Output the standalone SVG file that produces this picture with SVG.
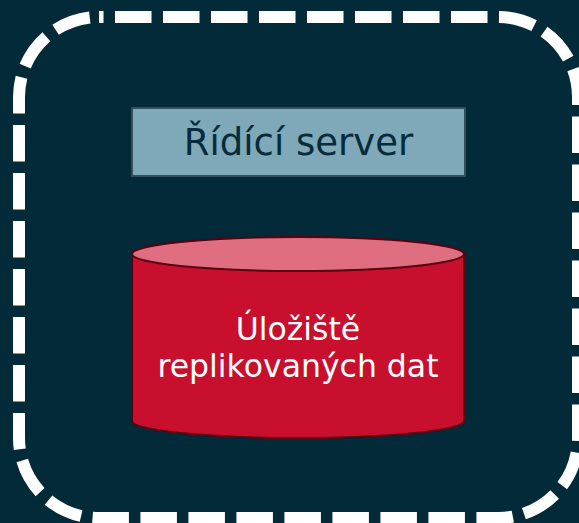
<svg xmlns="http://www.w3.org/2000/svg" width="579" height="523" viewBox="0 0 579 523">
<style>
.frame{fill:none;stroke:#ffffff;stroke-width:12;stroke-dasharray:36.5 11.5;stroke-dashoffset:32}
.box{fill:#7fa8b9;stroke:#34505c;stroke-width:2}
.t{font-family:"DejaVu Sans",Verdana,sans-serif;text-anchor:middle}
.cyl{fill:#c8102e;stroke:#5a0010;stroke-width:2}
.cyltop{fill:#df6f80;stroke:#5a0010;stroke-width:2}
</style>
<rect x="0" y="0" width="579" height="523" fill="#022a39"/>
<g id="frame">
<rect class="frame" x="19" y="17" width="559" height="501" rx="80" ry="80"/>
</g>
<g id="server">
<rect class="box" x="132" y="108" width="333" height="68"/>
<text class="t" x="298.5" y="155" font-size="37" fill="#062b3b">Řídící server</text>
</g>
<g id="storage">
<path class="cyl" d="M132,254 L132,421 A166,17 0 0 0 464,421 L464,254 Z"/>
<ellipse class="cyltop" cx="298" cy="254" rx="166" ry="17"/>
<text class="t" x="298" y="340" font-size="31.5" fill="#ffffff">Úložiště</text>
<text class="t" x="298" y="377" font-size="31.5" fill="#ffffff">replikovaných dat</text>
</g>
<g id="connectors"></g>
</svg>
